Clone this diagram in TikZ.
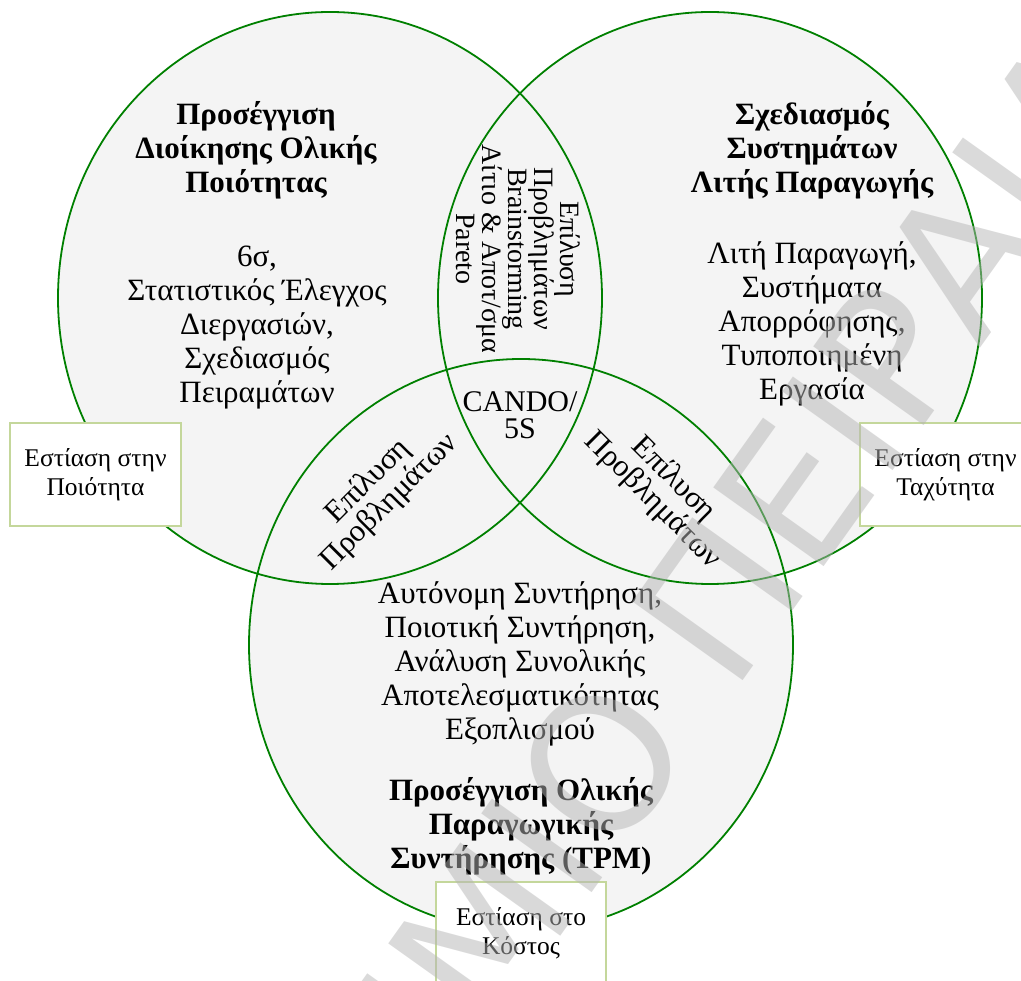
\documentclass[tikz,border=0pt]{standalone}
\usepackage{fontspec}
\setmainfont{Liberation Serif}
\newfontfamily\markfont{DejaVu Sans}
\definecolor{ringgreen}{RGB}{0,128,0}
\definecolor{setfill}{RGB}{244,244,244}
\definecolor{tagline}{RGB}{196,215,155}
\definecolor{markgray}{RGB}{181,181,181}

\begin{document}
\begin{tikzpicture}[x=1pt,y=-1pt,
  ring/.style={draw=ringgreen, line width=1.8pt},
  setarea/.style={fill=setfill},
  body/.style={align=center, inner sep=0pt, font=\fontsize{31}{34}\selectfont},
  head/.style={align=center, inner sep=0pt, font=\bfseries\fontsize{31}{34}\selectfont},
  lens/.style={align=center, inner sep=0pt, font=\fontsize{28}{26}\selectfont},
  sidelens/.style={align=center, inner sep=0pt, font=\fontsize{31}{28}\selectfont},
  core/.style={align=center, inner sep=0pt, font=\fontsize{30}{27}\selectfont},
  tag/.style={draw=tagline, fill=white, line width=1.5pt, align=center,
    minimum width=171pt, minimum height=103pt, inner sep=0pt,
    font=\fontsize{25.5}{29}\selectfont},
  watermark/.style={inner sep=0pt, text=markgray, text opacity=0.5,
    font=\markfont\fontsize{186}{186}\selectfont}]
\useasboundingbox (0,0) rectangle (1021,981);
\clip (0,0) rectangle (1021,981);

% centres of the three sets
\coordinate (cq) at (330,298);
\coordinate (cs) at (710,298);
\coordinate (cc) at (521,645);

% set areas, then their outlines
\foreach \c in {cq,cs,cc}
  \fill[setarea] (\c) ellipse [x radius=272pt, y radius=286pt];
\foreach \c in {cq,cs,cc}
  \draw[ring] (\c) ellipse [x radius=272pt, y radius=286pt];

% focus tags
\node[tag] (tq) at (95.5,474.5) {Εστίαση στην\\Ποιότητα};
\node[tag] (ts) at (945.5,474.5) {Εστίαση στην\\Ταχύτητα};
\node[tag, minimum width=170pt] (tc) at (521,933.5) {Εστίαση στο\\Κόστος};

% quality set
\node[head] (hq) at (256,150) {Προσέγγιση\\Διοίκησης Ολικής\\Ποιότητας};
\node[body] (bq) at (257,328) {6σ,\\Στατιστικός Έλεγχος\\Διεργασιών,\\Σχεδιασμός\\Πειραμάτων};

% speed set
\node[head] (hs) at (812,150) {Σχεδιασμός\\Συστημάτων\\Λιτής Παραγωγής};
\node[body] (bs) at (812,324) {Λιτή Παραγωγή,\\Συστήματα\\Απορρόφησης,\\Τυποποιημένη\\Εργασία};

% cost set
\node[body] (bc) at (520,664) {Αυτόνομη Συντήρηση,\\Ποιοτική Συντήρηση,\\Ανάλυση Συνολικής\\Αποτελεσματικότητας\\Εξοπλισμού};
\node[head] (hc) at (521,826) {Προσέγγιση Ολικής\\Παραγωγικής\\Συντήρησης (TPM)};

% overlaps
\node[lens, rotate=-90] (lqs) at (518,249) {Επίλυση\\Προβλημάτων\\Brainstorming\\Αίτιο \& Αποτ/σμα\\Pareto};
\node[sidelens, rotate=45] (lqc) at (379,492) {Επίλυση\\Προβλημάτων};
\node[sidelens, rotate=-45] (lsc) at (663,490) {Επίλυση\\Προβλημάτων};
\node[core] (all) at (520,415) {CANDO/\\5S};

% watermark
\node[watermark, rotate=54.5] (wm) at (452,972) {ΠΑΝΕΠΙΣΤΗΜΙΟ ΠΕΙΡΑΙΑ};
\end{tikzpicture}
\end{document}
